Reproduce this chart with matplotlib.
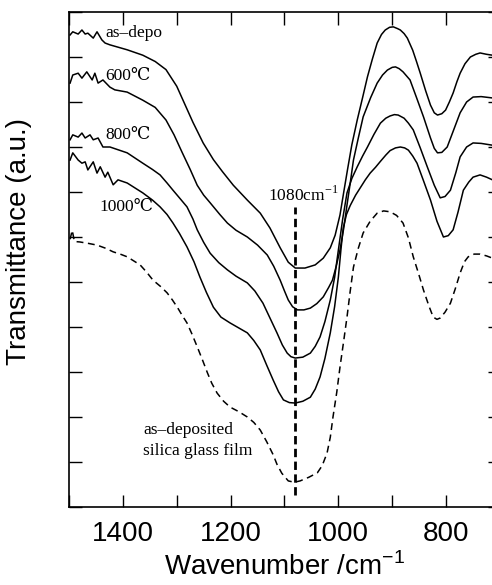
import matplotlib
matplotlib.use("Agg")
import matplotlib.pyplot as plt
from matplotlib.ticker import MultipleLocator, FuncFormatter

plt.rcParams['mathtext.fontset'] = 'custom'
plt.rcParams['mathtext.rm'] = 'Liberation Sans'
plt.rcParams['mathtext.sf'] = 'Liberation Serif'
plt.rcParams['font.family'] = ['Liberation Sans', 'DejaVu Sans']

# ---------------- data (wavenumber /cm^-1, transmittance a.u.) ----------------
wn_asdepo = [1498, 1493, 1483, 1476, 1470, 1465, 1455, 1448, 1439, 1433, 1424, 1392, 1363,
             1340, 1320, 1300, 1285, 1270, 1251, 1232, 1215, 1195, 1169, 1145, 1127, 1108,
             1093, 1080, 1062, 1043, 1028, 1015, 1006, 997, 990, 983, 975, 965, 955, 946,
             937, 928, 920, 913, 905, 898, 890, 885, 878, 872, 862, 855, 848, 838, 829, 822,
             816, 808, 801, 794, 787, 780, 774, 765, 755, 745, 737, 725, 714]
tr_asdepo = [10.49, 10.56, 10.51, 10.60, 10.51, 10.53, 10.42, 10.56, 10.38, 10.31, 10.27, 10.16, 10.04,
             9.90, 9.72, 9.35, 8.95, 8.55, 8.09, 7.72, 7.45, 7.15, 6.82, 6.53, 6.20, 5.76,
             5.44, 5.31, 5.31, 5.38, 5.53, 5.76, 6.04, 6.49, 7.00, 7.50, 8.05, 8.60, 9.10, 9.56,
             9.95, 10.31, 10.50, 10.60, 10.66, 10.67, 10.63, 10.60, 10.52, 10.42, 10.15, 9.90, 9.64, 9.25, 8.93, 8.76,
             8.71, 8.74, 8.82, 9.00, 9.20, 9.45, 9.64, 9.85, 10.00, 10.06, 10.09, 10.06, 10.04]

wn_600 = [1498, 1493, 1483, 1476, 1467, 1457, 1452, 1446, 1437, 1424, 1415, 1392, 1363, 1340,
          1320, 1305, 1290, 1275, 1262, 1250, 1238, 1220, 1206, 1190, 1169, 1150, 1132, 1120,
          1108, 1100, 1093, 1085, 1076, 1064, 1052, 1040, 1028, 1018, 1011, 1004, 997, 990,
          984, 978, 972, 963, 954, 940, 928, 918, 909, 900, 894, 887, 880, 867, 855, 842, 829,
          822, 816, 808, 798, 786, 774, 762, 750, 735, 714]
tr_600 = [9.42, 9.60, 9.64, 9.53, 9.67, 9.49, 9.64, 9.42, 9.49, 9.33, 9.27, 9.22, 9.04, 8.88,
          8.60, 8.27, 7.88, 7.50, 7.15, 6.93, 6.76, 6.50, 6.31, 6.15, 6.00, 5.82, 5.60, 5.35,
          5.04, 4.80, 4.60, 4.45, 4.38, 4.38, 4.42, 4.52, 4.67, 4.88, 5.04, 5.35, 5.71, 6.20,
          6.71, 7.20, 7.71, 8.20, 8.67, 9.10, 9.42, 9.60, 9.71, 9.77, 9.78, 9.74, 9.67, 9.49, 9.10, 8.67, 8.20,
          7.97, 7.87, 7.88, 8.00, 8.38, 8.76, 9.00, 9.11, 9.12, 9.09]

wn_800 = [1498, 1493, 1483, 1476, 1470, 1461, 1455, 1446, 1437, 1424, 1392, 1363, 1345, 1331,
          1318, 1307, 1295, 1281, 1270, 1262, 1250, 1238, 1222, 1206, 1190, 1169, 1155, 1140,
          1127, 1114, 1104, 1095, 1088, 1080, 1066, 1052, 1043, 1034, 1025, 1015, 1007, 1000,
          992, 984, 975, 965, 955, 946, 934, 922, 912, 904, 896, 889, 878, 870, 861, 848, 835,
          822, 811, 802, 792, 782, 774, 762, 750, 735, 714]
tr_800 = [8.16, 8.27, 8.22, 8.31, 8.20, 8.27, 8.16, 8.20, 8.00, 8.00, 7.87, 7.64, 7.50, 7.38,
          7.20, 7.04, 6.87, 6.67, 6.40, 6.16, 5.88, 5.64, 5.43, 5.27, 5.13, 4.98, 4.80, 4.53,
          4.20, 3.87, 3.60, 3.42, 3.34, 3.31, 3.33, 3.42, 3.57, 3.78, 4.12, 4.60, 5.10, 5.71,
          6.40, 6.98, 7.30, 7.56, 7.80, 8.00, 8.28, 8.53, 8.64, 8.69, 8.72, 8.71, 8.64, 8.53, 8.38, 7.98, 7.56,
          7.15, 6.87, 6.90, 7.04, 7.43, 7.78, 8.00, 8.09, 8.08, 8.04]

wn_1000 = [1498, 1493, 1483, 1476, 1470, 1465, 1455, 1448, 1442, 1433, 1428, 1418, 1409, 1392,
           1363, 1345, 1331, 1318, 1307, 1295, 1281, 1268, 1257, 1245, 1232, 1218, 1201, 1185,
           1169, 1157, 1145, 1133, 1121, 1111, 1102, 1091, 1080, 1066, 1052, 1043, 1034, 1025,
           1015, 1007, 1000, 995, 991, 985, 978, 968, 959, 950, 941, 931, 922, 912, 904, 894,
           885, 877, 870, 862, 854, 842, 829, 817, 805, 796, 787, 778, 768, 758, 750, 737, 725, 714]
tr_1000 = [7.71, 7.87, 7.71, 7.64, 7.67, 7.49, 7.67, 7.42, 7.56, 7.33, 7.44, 7.16, 7.27, 7.20,
           6.98, 6.82, 6.67, 6.50, 6.31, 6.08, 5.78, 5.45, 5.11, 4.77, 4.44, 4.22, 4.09, 3.98,
           3.87, 3.70, 3.49, 3.15, 2.82, 2.56, 2.38, 2.32, 2.31, 2.35, 2.44, 2.62, 2.89, 3.30,
           3.87, 4.45, 5.11, 5.75, 6.20, 6.50, 6.70, 6.93, 7.10, 7.27, 7.42, 7.55, 7.68, 7.82, 7.92, 7.98,
           8.00, 7.98, 7.93, 7.80, 7.64, 7.25, 6.82, 6.35, 6.00, 6.03, 6.16, 6.55, 7.04, 7.22, 7.33, 7.38, 7.33, 7.27]

wn_film = [1498, 1494, 1490, 1480, 1465, 1448, 1432, 1418, 1405, 1392, 1380, 1368, 1356, 1344,
           1330, 1318, 1308, 1298, 1290, 1281, 1272, 1262, 1252, 1243, 1235, 1225, 1213, 1201,
           1185, 1169, 1157, 1145, 1133, 1121, 1114, 1105, 1093, 1082, 1071, 1055, 1039, 1030,
           1021, 1015, 1010, 1003, 997, 990, 984, 978, 972, 963, 954, 941, 928, 916, 904, 892,
           880, 870, 861, 851, 842, 832, 824, 817, 811, 802, 792, 783, 774, 766, 759, 748, 737, 725, 714]
tr_film = [5.95, 6.15, 5.90, 5.89, 5.86, 5.82, 5.75, 5.67, 5.62, 5.56, 5.47, 5.38, 5.22, 5.04,
           4.90, 4.76, 4.60, 4.42, 4.26, 4.09, 3.85, 3.56, 3.26, 2.98, 2.75, 2.53, 2.35, 2.22,
           2.12, 2.00, 1.88, 1.71, 1.45, 1.16, 0.95, 0.75, 0.58, 0.55, 0.58, 0.66, 0.76, 0.92,
           1.20, 1.55, 2.00, 2.55, 3.11, 3.70, 4.22, 4.80, 5.33, 5.75, 6.09, 6.35, 6.53, 6.58, 6.56, 6.48,
           6.31, 5.98, 5.56, 5.18, 4.82, 4.47, 4.22, 4.17, 4.20, 4.33, 4.53, 4.85, 5.20, 5.45, 5.56, 5.62, 5.62, 5.58, 5.53]

peak_wn = 1080
peak_span = [0.27, 6.67]

labels = ["as\u2013depo", "600\u2103", "800\u2103", "1000\u2103"]
label_pos = [(1433, 10.53), (1433, 9.58), (1433, 8.27), (1444, 6.67)]
film_label = "as\u2013deposited\nsilica glass film"
peak_label = "1080cm$^{\\mathsf{-1}}$"

xticks_labeled = [1400, 1200, 1000, 800]

# ---------------- figure ----------------
fig = plt.figure(figsize=(4.92, 5.85), dpi=100)
ax = fig.add_axes([69/492, 1-507/585, 431/492, 495/585])

lw = 1.1
for wn, tr in [(wn_asdepo, tr_asdepo), (wn_600, tr_600), (wn_800, tr_800), (wn_1000, tr_1000)]:
    ax.plot(wn, tr, color='black', lw=lw, solid_joinstyle='round')
ax.plot(wn_film, tr_film, color='black', lw=1.1, dashes=(4.5, 3))
ax.plot([peak_wn, peak_wn], peak_span, color='black', lw=2.0, dashes=(3, 1.6))

serif = ['Liberation Serif', 'DejaVu Serif', 'DejaVu Sans']
for txt, (x, y) in zip(labels, label_pos):
    ax.text(x, y, txt, fontsize=12.5, family=serif, ha='left', va='center')
ax.text(1130, 6.93, peak_label, fontsize=12.5, family=serif, ha='left', va='center')
ax.text(1362, 1.48, film_label, fontsize=12.5, family=serif, ha='left', va='center',
        linespacing=1.45)

ax.set_xlim(1500, 700)
ax.set_ylim(0, 11)
ax.xaxis.set_major_locator(MultipleLocator(100))
ax.xaxis.set_major_formatter(FuncFormatter(
    lambda v, p: f"{int(round(v))}" if int(round(v)) in xticks_labeled else ""))
ax.yaxis.set_major_locator(MultipleLocator(1))
ax.yaxis.set_major_formatter(FuncFormatter(lambda v, p: ""))
ax.tick_params(direction='in', length=9, width=1.0, top=True, right=True,
               labelsize=20, pad=10)
for s in ax.spines.values():
    s.set_linewidth(1.2)

ax.set_xlabel("Wavenumber /cm$^{-1}$", fontsize=20, labelpad=4)
ax.set_ylabel("Transmittance (a.u.)", fontsize=20)
ax.yaxis.set_label_coords(-0.085, 0.537)

fig.savefig("out.png", dpi=100)
